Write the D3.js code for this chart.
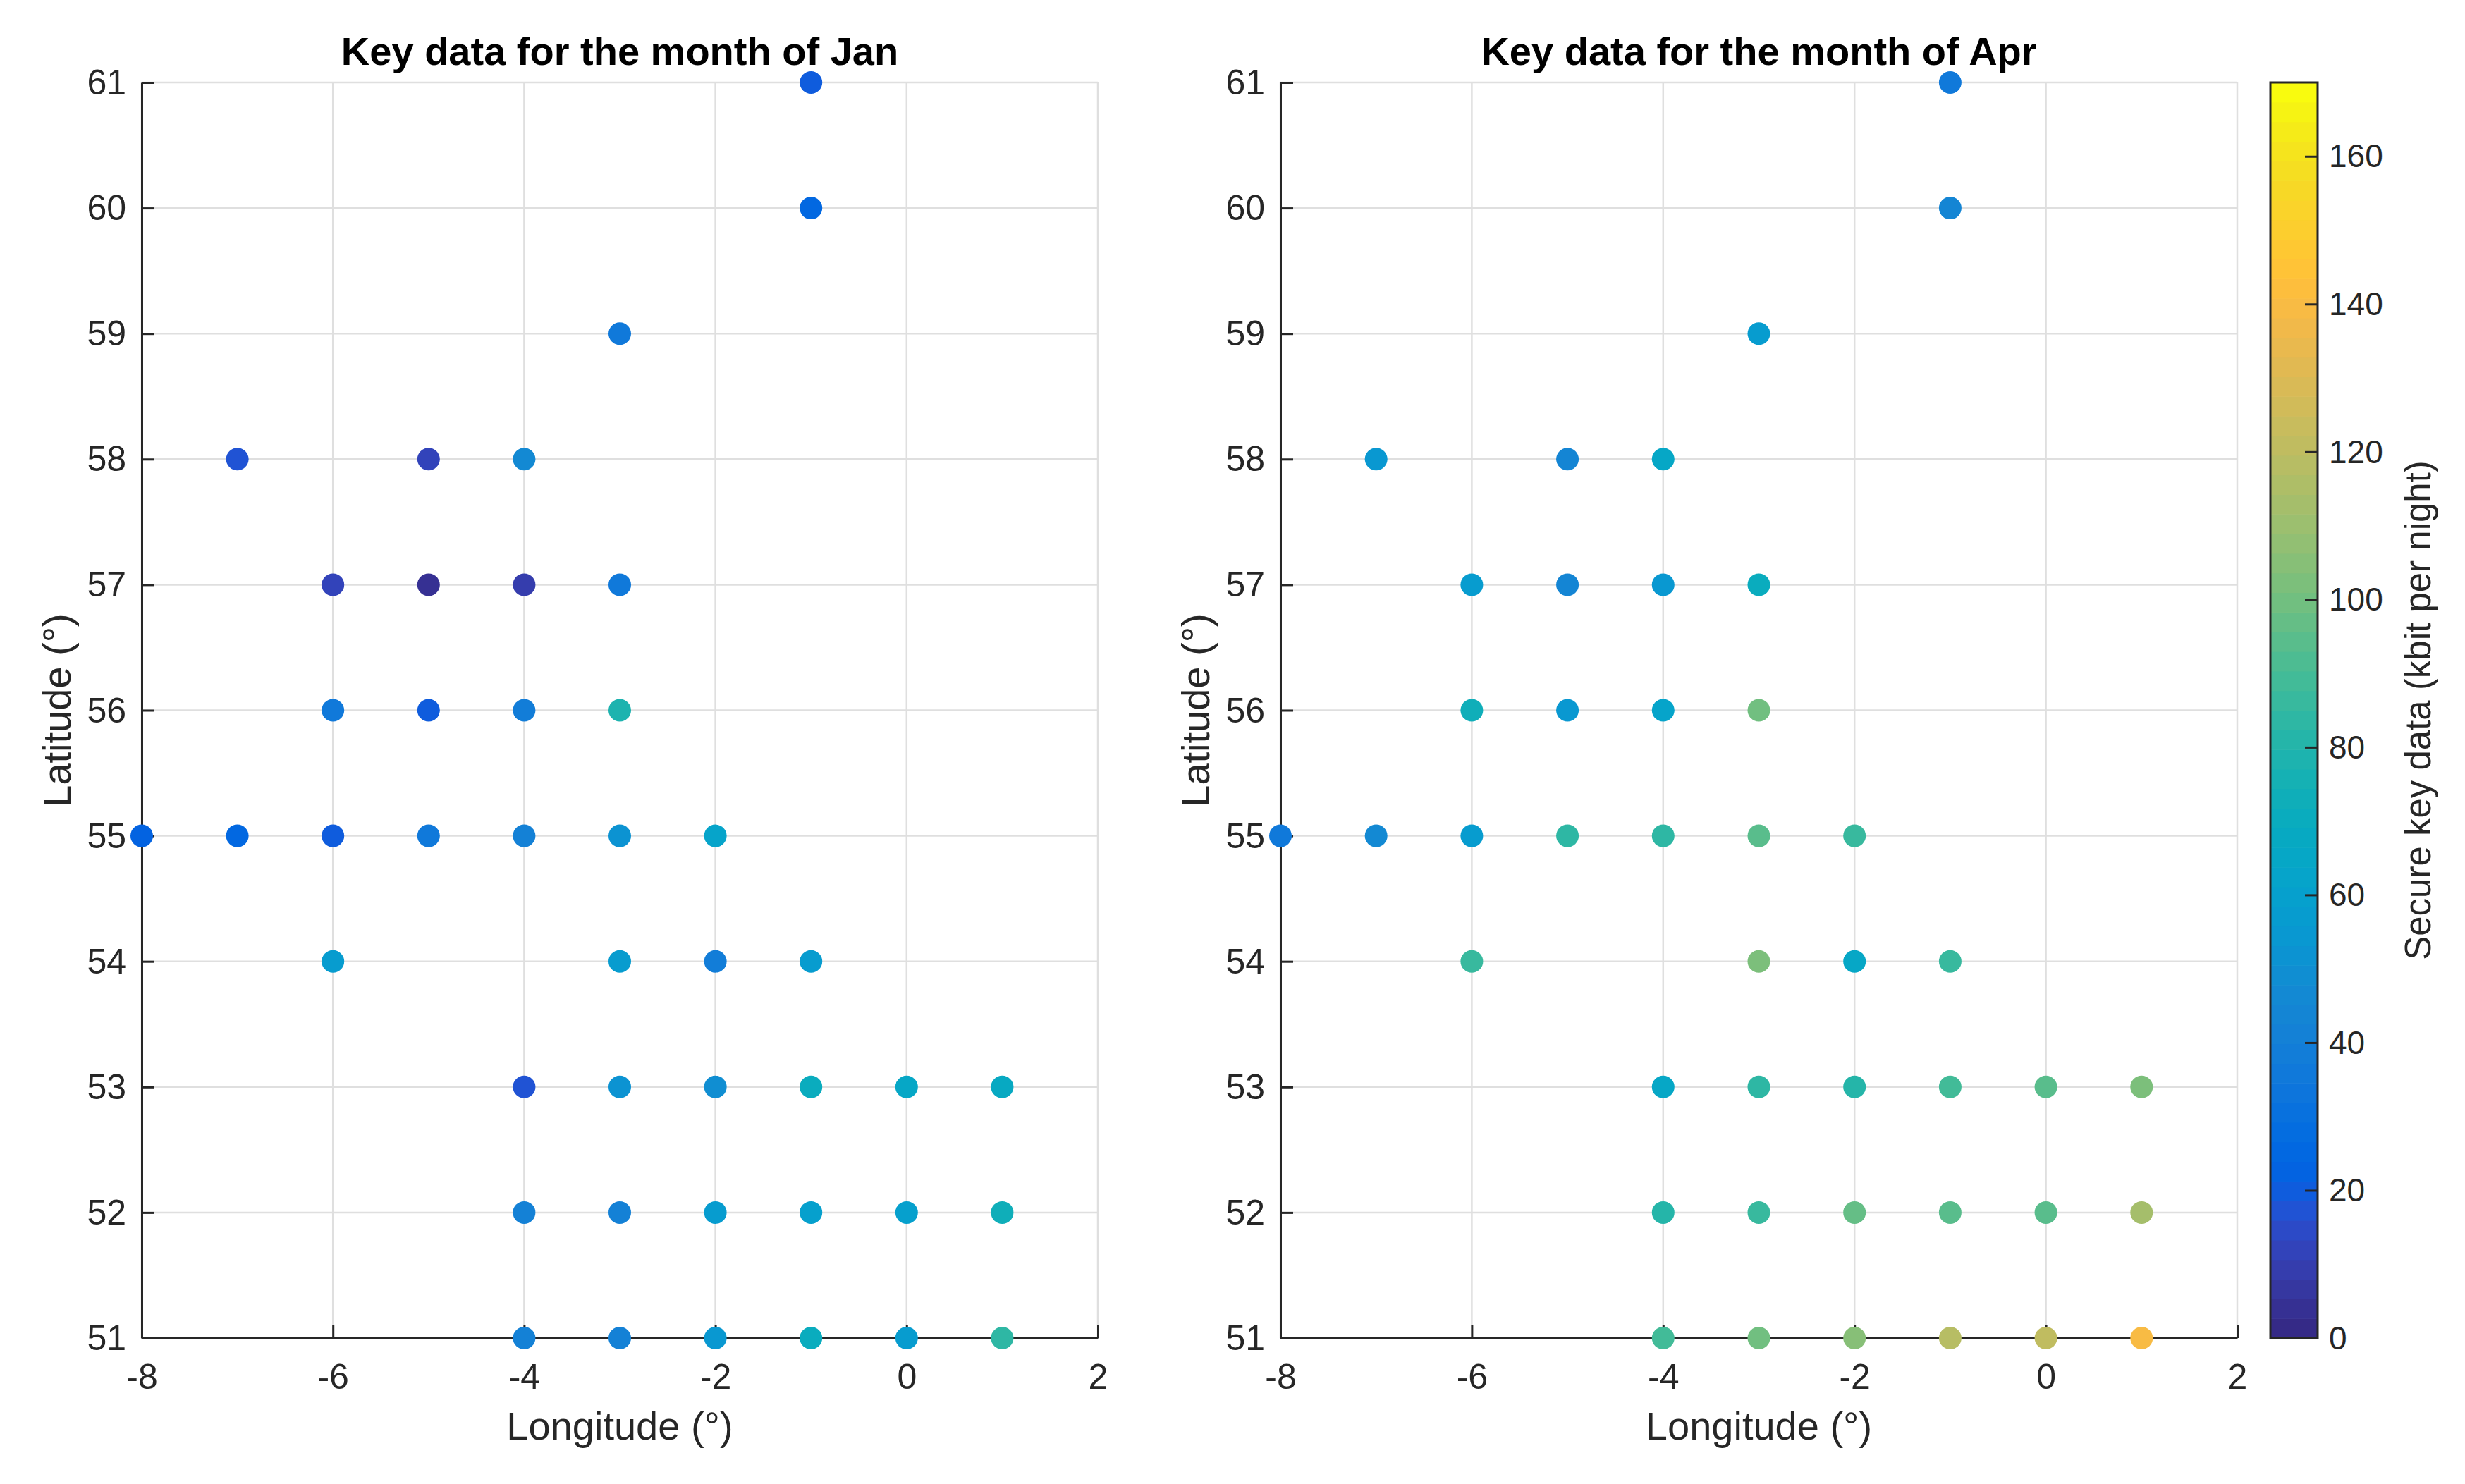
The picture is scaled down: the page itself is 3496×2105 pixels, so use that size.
<!DOCTYPE html>
<html><head><meta charset="utf-8">
<script src="https://cdn.jsdelivr.net/npm/d3@7"></script>
<style>
body{margin:0;background:#fff}
svg{display:block}
text{font-family:"Liberation Sans",Arial,sans-serif;fill:#262626}
</style>
</head><body>
<script>
// ---- data ----
const longitudes = [-1, -1, -3, -7, -5, -4, -6, -5, -4, -3, -6, -5, -4, -3,
  -8, -7, -6, -5, -4, -3, -2, -6, -3, -2, -1,
  -4, -3, -2, -1, 0, 1, -4, -3, -2, -1, 0, 1, -4, -3, -2, -1, 0, 1];
const latitudes = [61, 60, 59, 58, 58, 58, 57, 57, 57, 57, 56, 56, 56, 56,
  55, 55, 55, 55, 55, 55, 55, 54, 54, 54, 54,
  53, 53, 53, 53, 53, 53, 52, 52, 52, 52, 52, 52, 51, 51, 51, 51, 51, 51];
const janKey = [21, 26, 35, 16, 13, 47, 13, 3, 9, 35, 35, 21, 39, 79,
  22, 25, 21, 35, 42, 52, 63, 57, 58, 39, 57,
  17, 51, 49, 70, 66, 68, 41, 42, 57, 60, 59, 73, 41, 41, 55, 70, 58, 83];
const aprKey = [35, 45, 58, 55, 43, 66, 58, 43, 55, 70, 73, 55, 62, 100,
  35, 46, 58, 84, 84, 93, 87, 85, 103, 65, 85,
  66, 83, 81, 90, 95, 103, 81, 87, 97, 95, 95, 112, 90, 100, 105, 117, 122, 140];
const monthNames = ["Jan", "Apr"];
const xTickValues = [-8, -6, -4, -2, 0, 2];
const yTickValues = [51, 52, 53, 54, 55, 56, 57, 58, 59, 60, 61];
const cbTickValues = [0, 20, 40, 60, 80, 100, 120, 140, 160];
const colorLimits = [0, 170];

// parula (MATLAB R2017a+) 64-step colormap
const parula = [
[0.2081,0.1663,0.5292],[0.2116,0.1898,0.5777],[0.2123,0.2138,0.6270],[0.2081,0.2386,0.6771],
[0.1959,0.2645,0.7279],[0.1707,0.2919,0.7792],[0.1253,0.3242,0.8303],[0.0591,0.3598,0.8683],
[0.0117,0.3875,0.8820],[0.0060,0.4086,0.8828],[0.0165,0.4266,0.8786],[0.0329,0.4430,0.8720],
[0.0498,0.4586,0.8641],[0.0629,0.4737,0.8554],[0.0723,0.4887,0.8467],[0.0779,0.5040,0.8384],
[0.0793,0.5200,0.8312],[0.0749,0.5375,0.8263],[0.0641,0.5570,0.8240],[0.0488,0.5772,0.8228],
[0.0343,0.5966,0.8199],[0.0265,0.6137,0.8135],[0.0239,0.6287,0.8038],[0.0231,0.6418,0.7913],
[0.0228,0.6535,0.7768],[0.0267,0.6642,0.7607],[0.0384,0.6743,0.7436],[0.0590,0.6838,0.7254],
[0.0843,0.6928,0.7062],[0.1133,0.7015,0.6859],[0.1453,0.7098,0.6646],[0.1801,0.7177,0.6424],
[0.2178,0.7250,0.6193],[0.2586,0.7317,0.5954],[0.3022,0.7376,0.5712],[0.3482,0.7424,0.5473],
[0.3953,0.7459,0.5244],[0.4420,0.7481,0.5033],[0.4871,0.7491,0.4840],[0.5300,0.7491,0.4661],
[0.5709,0.7485,0.4494],[0.6099,0.7473,0.4337],[0.6473,0.7456,0.4188],[0.6834,0.7435,0.4044],
[0.7184,0.7411,0.3905],[0.7525,0.7384,0.3768],[0.7858,0.7356,0.3633],[0.8185,0.7327,0.3498],
[0.8507,0.7299,0.3360],[0.8824,0.7274,0.3217],[0.9139,0.7258,0.3063],[0.9450,0.7261,0.2886],
[0.9739,0.7314,0.2666],[0.9938,0.7455,0.2403],[0.9990,0.7653,0.2164],[0.9955,0.7861,0.1967],
[0.9880,0.8066,0.1794],[0.9789,0.8271,0.1633],[0.9697,0.8481,0.1475],[0.9626,0.8705,0.1309],
[0.9589,0.8949,0.1132],[0.9598,0.9218,0.0948],[0.9661,0.9514,0.0755],[0.9763,0.9831,0.0538]
].map(c => d3.rgb(c[0]*255, c[1]*255, c[2]*255).formatHex());

const W = 3496, H = 2105;
const svg = d3.select("body").append("svg").attr("width", W).attr("height", H);
svg.append("rect").attr("width", W).attr("height", H).attr("fill", "#fff");

const color = d3.scaleQuantize().domain(colorLimits).range(parula);
const plotTop = 117, plotBottom = 1898;
const panels = [
  {left: 201, right: 1557, values: janKey, month: monthNames[0]},
  {left: 1816, right: 3173, values: aprKey, month: monthNames[1]}
];
const axisColor = "#262626";
const gridColor = "#dfdfdf";

panels.forEach(p => {
  const x = d3.scaleLinear().domain([-8, 2]).range([p.left, p.right]);
  const y = d3.scaleLinear().domain([51, 61]).range([plotBottom, plotTop]);
  const g = svg.append("g");

  // grid
  g.append("g").selectAll("line").data(xTickValues).join("line")
    .attr("x1", d => x(d)).attr("x2", d => x(d)).attr("y1", plotTop).attr("y2", plotBottom)
    .attr("stroke", gridColor).attr("stroke-width", 2.5);
  g.append("g").selectAll("line").data(yTickValues).join("line")
    .attr("y1", d => y(d)).attr("y2", d => y(d)).attr("x1", p.left).attr("x2", p.right)
    .attr("stroke", gridColor).attr("stroke-width", 2.5);

  // axes
  const xa = g.append("g").attr("transform", `translate(0,${plotBottom})`)
    .call(d3.axisBottom(x).tickValues(xTickValues).tickSizeInner(-18).tickSizeOuter(0).tickPadding(36).tickFormat(d3.format("d")));
  const ya = g.append("g").attr("transform", `translate(${p.left},0)`)
    .call(d3.axisLeft(y).tickValues(yTickValues).tickSizeInner(-18).tickSizeOuter(0).tickPadding(22).tickFormat(d3.format("d")));
  [xa, ya].forEach(a => {
    a.select(".domain").attr("stroke", axisColor).attr("stroke-width", 3);
    a.selectAll(".tick line").attr("stroke", axisColor).attr("stroke-width", 3);
    a.selectAll(".tick text").attr("font-size", 50).attr("fill", axisColor)
      .style("font-family", '"Liberation Sans",Arial,sans-serif');
  });
  xa.selectAll(".tick text").text(d => String(d));
  ya.selectAll(".tick text").attr("dy", "0.33em");

  // points
  g.append("g").selectAll("circle").data(longitudes.map((lon, i) => ({lon, lat: latitudes[i], v: p.values[i]})))
    .join("circle")
    .attr("cx", d => x(d.lon)).attr("cy", d => y(d.lat)).attr("r", 16)
    .attr("fill", d => color(d.v));

  // title and labels
  g.append("text").attr("x", (p.left + p.right) / 2).attr("y", 92)
    .attr("text-anchor", "middle").attr("font-size", 56).attr("font-weight", "bold").style("fill", "#000")
    .text("Key data for the month of " + p.month);
  g.append("text").attr("x", (p.left + p.right) / 2).attr("y", 2042)
    .attr("text-anchor", "middle").attr("font-size", 56)
    .text("Longitude (°)");
  g.append("text").attr("transform", `translate(${p.left - 101},${(plotTop + plotBottom) / 2}) rotate(-90)`)
    .attr("text-anchor", "middle").attr("font-size", 56)
    .text("Latitude (°)");
});

// colorbar
const cbLeft = 3220, cbRight = 3287;
const cbScale = d3.scaleLinear().domain(colorLimits).range([plotBottom, plotTop]);
const cb = svg.append("g");
const step = (colorLimits[1] - colorLimits[0]) / parula.length;
cb.selectAll("rect.c").data(parula).join("rect").attr("class", "c")
  .attr("x", cbLeft).attr("width", cbRight - cbLeft)
  .attr("y", (c, i) => cbScale(colorLimits[0] + (i + 1) * step))
  .attr("height", (c, i) => cbScale(colorLimits[0] + i * step) - cbScale(colorLimits[0] + (i + 1) * step) + 0.6)
  .attr("fill", c => c);
cb.append("rect").attr("x", cbLeft).attr("y", plotTop).attr("width", cbRight - cbLeft).attr("height", plotBottom - plotTop)
  .attr("fill", "none").attr("stroke", axisColor).attr("stroke-width", 3);
const cbAxis = cb.append("g").attr("transform", `translate(${cbRight},0)`)
  .call(d3.axisRight(cbScale).tickValues(cbTickValues).tickSizeInner(-18).tickSizeOuter(0).tickPadding(16).tickFormat(d3.format("d")));
cbAxis.select(".domain").remove();
cbAxis.selectAll(".tick line").attr("stroke", axisColor).attr("stroke-width", 3);
cbAxis.selectAll(".tick text").attr("font-size", 46).attr("fill", axisColor).attr("dy", "0.33em")
  .style("font-family", '"Liberation Sans",Arial,sans-serif');
cb.append("text").attr("transform", `translate(3447,${(plotTop + plotBottom) / 2}) rotate(-90)`)
  .attr("text-anchor", "middle").attr("font-size", 51)
  .text("Secure key data (kbit per night)");
</script>
</body></html>
